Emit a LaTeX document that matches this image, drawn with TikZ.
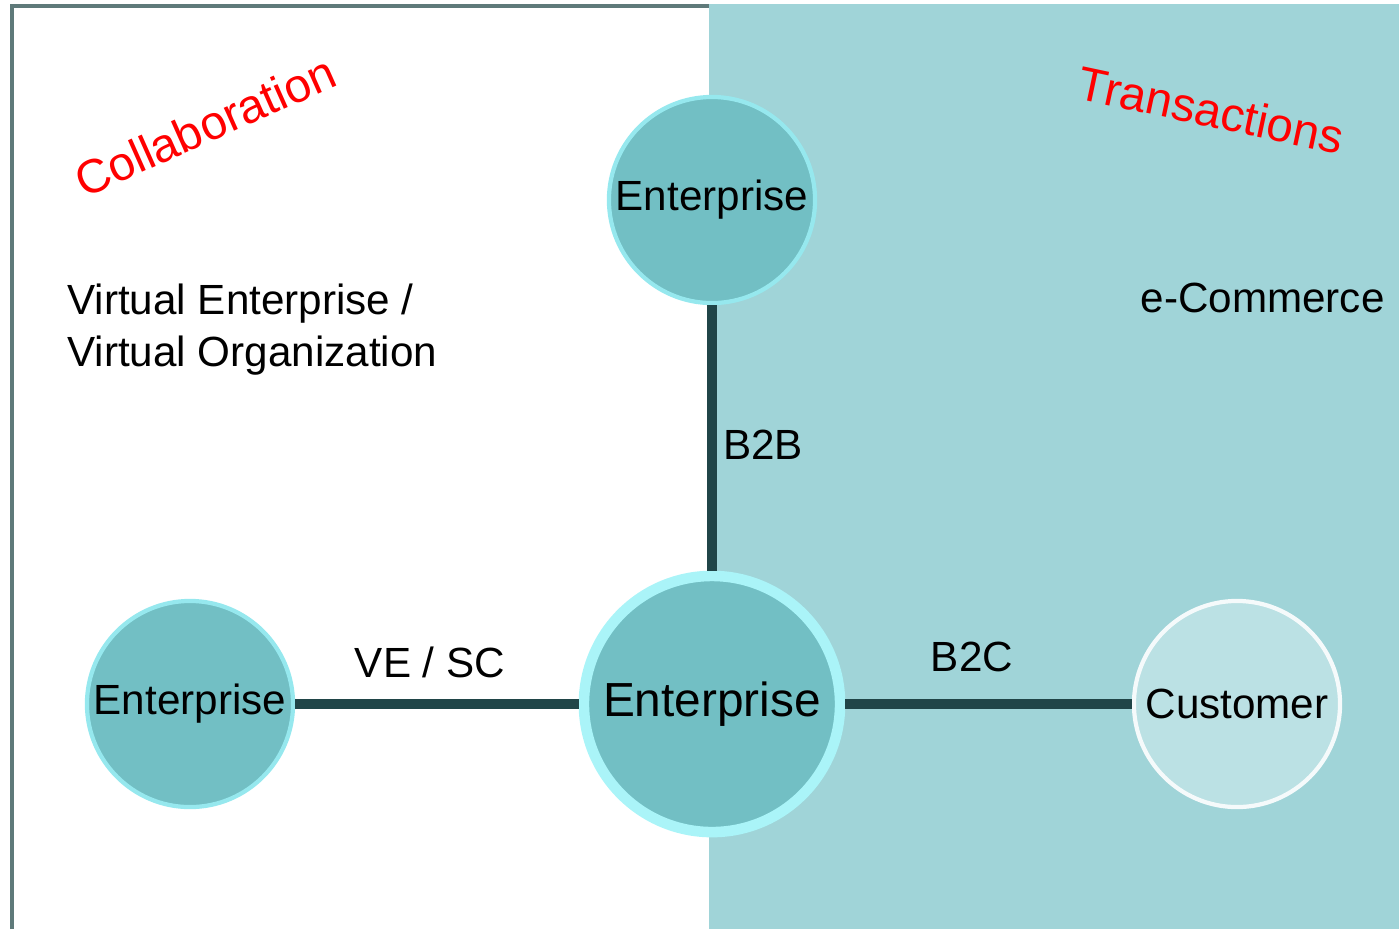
\documentclass[tikz,border=0pt]{standalone}
\usepackage{fontspec}
\setmainfont{Liberation Sans}
\usetikzlibrary{positioning}
\definecolor{panelteal}{RGB}{160, 212, 216}
\definecolor{ballteal}{RGB}{114, 191, 196}
\definecolor{ballrim}{RGB}{150, 232, 238}
\definecolor{hubrim}{RGB}{170, 244, 248}
\definecolor{custfill}{RGB}{187, 225, 228}
\definecolor{linkdark}{RGB}{32, 69, 72}
\definecolor{framegray}{RGB}{95, 122, 122}

\begin{document}
\begin{tikzpicture}[
        x=0.01cm, y=-0.01cm,
        ball/.style={circle, draw=ballrim, line width=1.2pt, fill=ballteal, minimum size=2.06cm, inner sep=0pt, font=\fontsize{12}{14}\selectfont},
        link/.style={linkdark, line width=2.8pt},
        tag/.style={font=\fontsize{12}{14}\selectfont},
        title/.style={red, inner sep=0pt, font=\fontsize{13.5}{16}\selectfont}
    ]
        \useasboundingbox (0,0) rectangle (1399,929);
        % panels
        \fill[panelteal] (709,4) rectangle (1399,929);
        \draw[framegray, line width=1.1pt] (12,929) -- (12,6) -- (709,6);

        % nodes
        \node[ball] (top) at (712,200) {Enterprise};
        \node[ball] (left) at (190,704) {Enterprise};
        \node[ball, draw=hubrim, line width=3pt, minimum size=2.56cm, font=\fontsize{13.6}{16}\selectfont] (hub) at (712,704) {Enterprise};
        \node[ball, fill=custfill, draw=white!85!custfill] (cust) at (1237,704) {Customer};

        \draw[link] (top) -- (hub);
        \draw[link] (left) -- (hub);
        \draw[link] (hub) -- (cust);

        % labels
        \node[tag] (b2b) at (763,445) {B2B};
        \node[tag] (vesc) at (430,662) {VE / SC};
        \node[tag] (b2c) at (972,657) {B2C};
        \node[tag, align=left, anchor=north west] (virt) at (55,271) {Virtual Enterprise /\\[1pt]Virtual Organization};
        \node[tag, anchor=east] (ecom) at (1397,298) {e-Commerce};
        \node[title, rotate=24] (collab) at (205,126) {Collaboration};
        \node[title, rotate=-12] (trans) at (1211,110) {Transactions};
    \end{tikzpicture}
\end{document}
